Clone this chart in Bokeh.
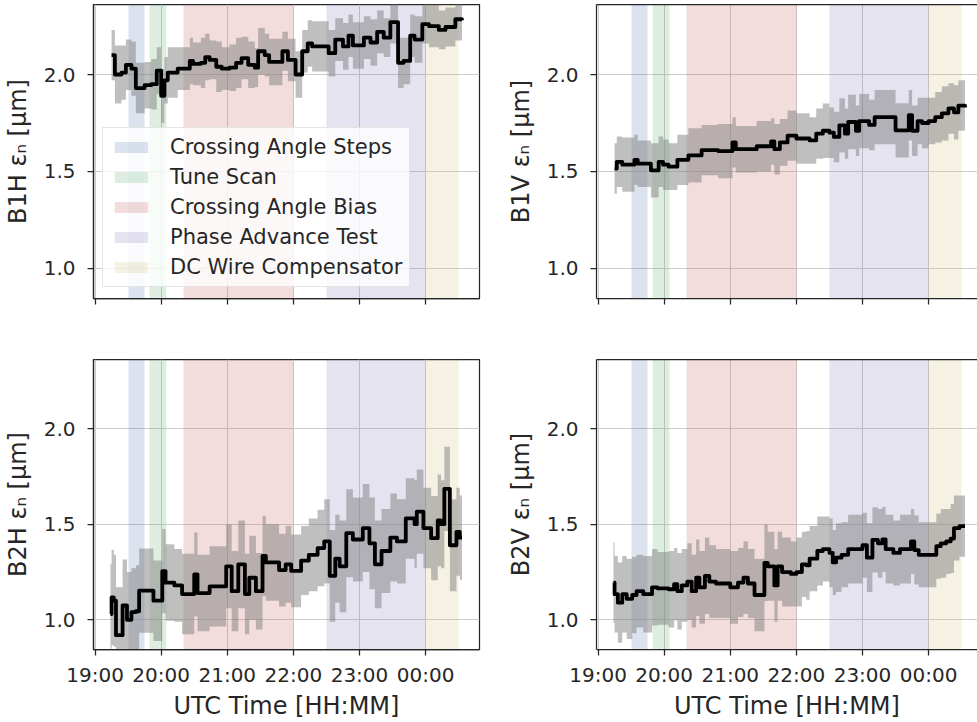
from bokeh.plotting import figure
from bokeh.layouts import gridplot
from bokeh.models import (Range1d, FixedTicker, LinearAxis, Legend, LegendItem,
                          PrintfTickFormatter)
from bokeh.embed import file_html
from bokeh.resources import INLINE

# ---------------- data ----------------
tick_labels = ["19:00", "20:00", "21:00", "22:00", "23:00", "00:00"]
y_ticks = [1.0, 1.5, 2.0]

phase_names = ["Crossing Angle Steps", "Tune Scan", "Crossing Angle Bias",
               "Phase Advance Test", "DC Wire Compensator"]
phase_start = ["19:30", "19:49", "20:20", "22:30", "00:00"]
phase_end = ["19:45", "20:05", "22:00", "00:00", "00:30"]
phase_colors = ["#4C72B0", "#55A868", "#C44E52", "#8172B2", "#CCB974"]

b1h_time = ["19:15", "19:18", "19:24", "19:28", "19:33", "19:37", "19:45", "19:51", "19:56", "20:00",
            "20:03", "20:06", "20:15", "20:26", "20:29", "20:36", "20:40", "20:44", "20:50", "20:55",
            "21:02", "21:08", "21:13", "21:19", "21:25", "21:28", "21:34", "21:38", "21:50", "21:55",
            "22:02", "22:08", "22:13", "22:17", "22:32", "22:38", "22:45", "22:50", "22:54", "23:04",
            "23:10", "23:16", "23:22", "23:28", "23:35", "23:40", "23:46", "23:50", "23:57", "00:03",
            "00:12", "00:18", "00:27", "00:33"]
b1h_mean = [2.10, 2.00, 2.01, 2.05, 2.03, 1.93, 1.945, 1.95, 2.02, 1.89,
            1.97, 2.01, 2.03, 2.07, 2.055, 2.06, 2.09, 2.075, 2.04, 2.03,
            2.035, 2.06, 2.085, 2.05, 2.035, 2.12, 2.10, 2.065, 2.12, 2.075,
            2.00, 2.12, 2.16, 2.145, 2.11, 2.18, 2.145, 2.20, 2.15, 2.19,
            2.165, 2.22, 2.19, 2.27, 2.06, 2.07, 2.20, 2.18, 2.26, 2.25,
            2.23, 2.245, 2.285, 2.28]
b1h_std = [0.13, 0.15, 0.14, 0.13, 0.14, 0.13, 0.12, 0.13, 0.12, 0.14,
           0.12, 0.13, 0.11, 0.12, 0.11, 0.13, 0.12, 0.10, 0.13, 0.11,
           0.12, 0.13, 0.11, 0.12, 0.10, 0.12, 0.11, 0.12, 0.10, 0.11,
           0.12, 0.11, 0.12, 0.13, 0.12, 0.11, 0.12, 0.11, 0.12, 0.11,
           0.12, 0.11, 0.10, 0.11, 0.13, 0.12, 0.11, 0.12, 0.10, 0.11,
           0.10, 0.10, 0.11, 0.11]

b1v_time = ["19:15", "19:17", "19:22", "19:33", "19:36", "19:48", "19:55", "19:59", "20:04", "20:12",
            "20:22", "20:34", "20:49", "21:02", "21:05", "21:24", "21:37", "21:40", "21:45", "21:52",
            "22:00", "22:12", "22:18", "22:24", "22:30", "22:34", "22:39", "22:44", "22:47", "22:54",
            "22:57", "23:06", "23:11", "23:30", "23:42", "23:45", "23:50", "23:54", "00:00", "00:06",
            "00:12", "00:18", "00:23", "00:27", "00:33"]
b1v_mean = [1.515, 1.55, 1.535, 1.56, 1.54, 1.506, 1.55, 1.535, 1.525, 1.56,
            1.583, 1.61, 1.605, 1.65, 1.615, 1.63, 1.655, 1.615, 1.65, 1.685,
            1.67, 1.66, 1.695, 1.71, 1.70, 1.678, 1.738, 1.695, 1.755, 1.71,
            1.76, 1.74, 1.78, 1.712, 1.79, 1.71, 1.76, 1.75, 1.76, 1.78,
            1.80, 1.825, 1.805, 1.84, 1.83]
b1v_std = [0.13, 0.13, 0.14, 0.13, 0.12, 0.14, 0.13, 0.13, 0.12, 0.13,
           0.14, 0.13, 0.14, 0.13, 0.12, 0.13, 0.12, 0.13, 0.12, 0.13,
           0.13, 0.12, 0.13, 0.14, 0.13, 0.13, 0.14, 0.13, 0.14, 0.13,
           0.14, 0.13, 0.14, 0.14, 0.13, 0.13, 0.12, 0.13, 0.12, 0.13,
           0.14, 0.13, 0.14, 0.13, 0.13]

b2h_time = ["19:14", "19:15", "19:17", "19:19", "19:25", "19:29", "19:33", "19:37", "19:40", "19:53",
            "20:01", "20:04", "20:12", "20:19", "20:30", "20:33", "20:44", "20:59", "21:04", "21:10",
            "21:16", "21:20", "21:26", "21:32", "21:35", "21:47", "21:53", "21:58", "22:07", "22:14",
            "22:22", "22:28", "22:33", "22:38", "22:42", "22:48", "22:54", "23:03", "23:09", "23:14",
            "23:20", "23:28", "23:34", "23:42", "23:50", "23:52", "23:58", "00:05", "00:11", "00:14",
            "00:17", "00:22", "00:28", "00:31", "00:33"]
b2h_mean = [1.03, 1.117, 1.10, 0.92, 1.075, 1.00, 1.04, 1.045, 1.153, 1.10,
            1.255, 1.195, 1.18, 1.135, 1.237, 1.14, 1.175, 1.28, 1.15, 1.29,
            1.135, 1.22, 1.15, 1.334, 1.30, 1.26, 1.29, 1.256, 1.31, 1.34,
            1.375, 1.41, 1.23, 1.32, 1.28, 1.453, 1.42, 1.48, 1.40, 1.29,
            1.36, 1.43, 1.41, 1.53, 1.50, 1.566, 1.48, 1.427, 1.52, 1.50,
            1.685, 1.39, 1.46, 1.43, 1.43]
b2h_std = [0.26, 0.25, 0.24, 0.25, 0.24, 0.25, 0.23, 0.24, 0.22, 0.21,
           0.22, 0.20, 0.19, 0.21, 0.22, 0.20, 0.21, 0.22, 0.21, 0.23,
           0.21, 0.22, 0.20, 0.21, 0.20, 0.19, 0.20, 0.19, 0.18, 0.19,
           0.20, 0.22, 0.24, 0.23, 0.24, 0.23, 0.22, 0.23, 0.24, 0.23,
           0.22, 0.23, 0.22, 0.21, 0.23, 0.22, 0.21, 0.22, 0.24, 0.23,
           0.22, 0.24, 0.23, 0.22, 0.22]

b2v_time = ["19:14", "19:15", "19:18", "19:22", "19:26", "19:31", "19:35", "19:41", "19:49", "19:54",
            "20:04", "20:09", "20:12", "20:16", "20:21", "20:25", "20:29", "20:32", "20:37", "20:41",
            "20:47", "21:00", "21:07", "21:12", "21:16", "21:22", "21:31", "21:34", "21:40", "21:43",
            "21:47", "21:55", "22:00", "22:05", "22:09", "22:12", "22:19", "22:24", "22:30", "22:33",
            "22:36", "22:41", "22:47", "23:00", "23:04", "23:09", "23:14", "23:18", "23:21", "23:28",
            "23:34", "23:44", "23:47", "23:51", "00:07", "00:11", "00:16", "00:20", "00:23", "00:28",
            "00:33"]
b2v_mean = [1.195, 1.134, 1.09, 1.134, 1.11, 1.13, 1.15, 1.134, 1.17, 1.165,
            1.16, 1.186, 1.15, 1.18, 1.20, 1.15, 1.22, 1.17, 1.23, 1.20,
            1.19, 1.17, 1.195, 1.22, 1.19, 1.13, 1.298, 1.28, 1.18, 1.28,
            1.25, 1.24, 1.25, 1.29, 1.285, 1.32, 1.36, 1.37, 1.35, 1.30,
            1.325, 1.34, 1.37, 1.39, 1.325, 1.418, 1.40, 1.42, 1.37, 1.35,
            1.37, 1.41, 1.365, 1.34, 1.385, 1.40, 1.41, 1.425, 1.48, 1.49,
            1.49]
b2v_std = [0.21, 0.20, 0.21, 0.20, 0.21, 0.20, 0.19, 0.20, 0.20, 0.19,
           0.20, 0.19, 0.20, 0.19, 0.20, 0.19, 0.20, 0.19, 0.20, 0.19,
           0.18, 0.19, 0.18, 0.19, 0.18, 0.19, 0.20, 0.18, 0.19, 0.18,
           0.18, 0.17, 0.18, 0.17, 0.18, 0.17, 0.18, 0.17, 0.18, 0.17,
           0.18, 0.17, 0.18, 0.17, 0.18, 0.17, 0.18, 0.17, 0.18, 0.17,
           0.18, 0.17, 0.18, 0.17, 0.17, 0.18, 0.17, 0.18, 0.17, 0.16,
           0.16]

# ---------------- style ----------------
FONT = "DejaVu Sans"
INK = "#262626"
X0, X1 = -1.4, 348.9          # minutes after 19:00 shown in a full panel
Y0, Y1 = 0.845, 2.361
FRAME_W, FRAME_W_CUT = 386, 381


def to_min(s):
    h, m = (int(v) for v in s.split(":"))
    if h < 12:
        h += 24
    return (h - 19) * 60 + m


tick_pos = [to_min(t) for t in tick_labels]


def style_axis(ax, show_labels):
    ax.axis_line_color = INK
    ax.axis_line_width = 1.25
    ax.major_tick_line_color = INK
    ax.major_tick_line_width = 1.25
    ax.major_tick_out = 6
    ax.major_tick_in = 0
    ax.minor_tick_line_color = None
    ax.major_label_text_font = FONT
    ax.axis_label_text_font = FONT
    ax.axis_label_text_font_size = "24px"
    ax.axis_label_text_font_style = "normal"
    ax.axis_label_text_color = INK
    if show_labels:
        ax.major_label_text_font_size = "20px"
        ax.major_label_text_color = INK
    else:
        # labels are not painted at all (shared x axis)
        ax.major_label_text_font_size = "1px"
        ax.major_label_text_color = None
        ax.major_label_standoff = 0


def panel(name, times, mean, std, col, row, with_legend=False):
    n = min(len(times), len(mean), len(std))
    t = [to_min(s) for s in times[:n]]
    mu = mean[:n]
    lo = [m - s for m, s in zip(mean[:n], std[:n])]
    hi = [m + s for m, s in zip(mean[:n], std[:n])]

    left = col == 0
    bottom = row == 1
    x_end = X1 if left else X0 + (X1 - X0) * FRAME_W_CUT / FRAME_W
    p = figure(width=489 if left else 488, height=394 if bottom else 328,
               output_backend="svg", toolbar_location=None, tools="",
               x_range=Range1d(X0, x_end), y_range=Range1d(Y0, Y1),
               min_border_left=93 if left else 107,
               min_border_right=10 if left else 0,
               min_border_top=31 if bottom else 4,
               min_border_bottom=69 if bottom else 30,
               background_fill_color="white", border_fill_color="white")

    strips = []
    for s, e, c in zip(phase_start, phase_end, phase_colors):
        r = p.vstrip(x0=[to_min(s)], x1=[to_min(e)], fill_color=c, fill_alpha=0.2,
                     line_color=None)
        strips.append(r)

    p.varea_step(x=t, y1=lo, y2=hi, step_mode="after", fill_color="gray", fill_alpha=0.5)
    p.step(x=t, y=mu, mode="after", line_color="black", line_width=3.8, line_join="round")

    p.xaxis.ticker = FixedTicker(ticks=tick_pos)
    p.xaxis.major_label_overrides = {tp: lab for tp, lab in zip(tick_pos, tick_labels)}
    p.xaxis.major_label_standoff = 7
    p.xaxis.axis_label_standoff = 2
    style_axis(p.xaxis[0], bottom)
    if bottom:
        p.xaxis.axis_label = "UTC Time [HH:MM]"

    p.yaxis.ticker = FixedTicker(ticks=y_ticks)
    p.yaxis.formatter = PrintfTickFormatter(format="%.1f")
    style_axis(p.yaxis[0], True)
    p.yaxis.major_label_standoff = 12
    p.yaxis.axis_label_standoff = 9
    p.yaxis.axis_label = name + " \u03b5\u2099 [\u03bcm]"

    p.xgrid.ticker = FixedTicker(ticks=tick_pos)
    p.ygrid.ticker = FixedTicker(ticks=y_ticks)
    for g in (p.xgrid[0], p.ygrid[0]):
        g.grid_line_color = "#cccccc"
        g.grid_line_width = 1

    if left:
        p.outline_line_color = INK
        p.outline_line_width = 1.25
        p.outline_line_alpha = 1
    else:
        p.outline_line_color = None
        top = LinearAxis(ticker=FixedTicker(ticks=[]))
        top.axis_line_color = INK
        top.axis_line_width = 1.25
        top.major_tick_out = 0
        top.major_label_text_font_size = "1px"
        top.major_label_text_color = None
        top.major_label_standoff = 0
        p.add_layout(top, "above")

    if with_legend:
        legend = Legend(items=[LegendItem(label=nm, renderers=[r])
                               for nm, r in zip(phase_names, strips)],
                        location=(9, 11))
        legend.label_text_font = FONT
        legend.label_text_font_size = "21px"
        legend.label_text_color = INK
        legend.glyph_width = 42
        legend.glyph_height = 14
        legend.label_standoff = 18
        legend.spacing = 6
        legend.padding = 7
        legend.margin = 0
        legend.background_fill_color = "white"
        legend.background_fill_alpha = 0.8
        legend.border_line_color = "#cccccc"
        legend.border_line_width = 1
        p.add_layout(legend)
    return p


p1 = panel("B1H", b1h_time, b1h_mean, b1h_std, 0, 0, with_legend=True)
p2 = panel("B1V", b1v_time, b1v_mean, b1v_std, 1, 0)
p3 = panel("B2H", b2h_time, b2h_mean, b2h_std, 0, 1)
p4 = panel("B2V", b2v_time, b2v_mean, b2v_std, 1, 1)

grid = gridplot([[p1, p2], [p3, p4]], toolbar_location=None)

open("out.html", "w").write(file_html(grid, INLINE))
